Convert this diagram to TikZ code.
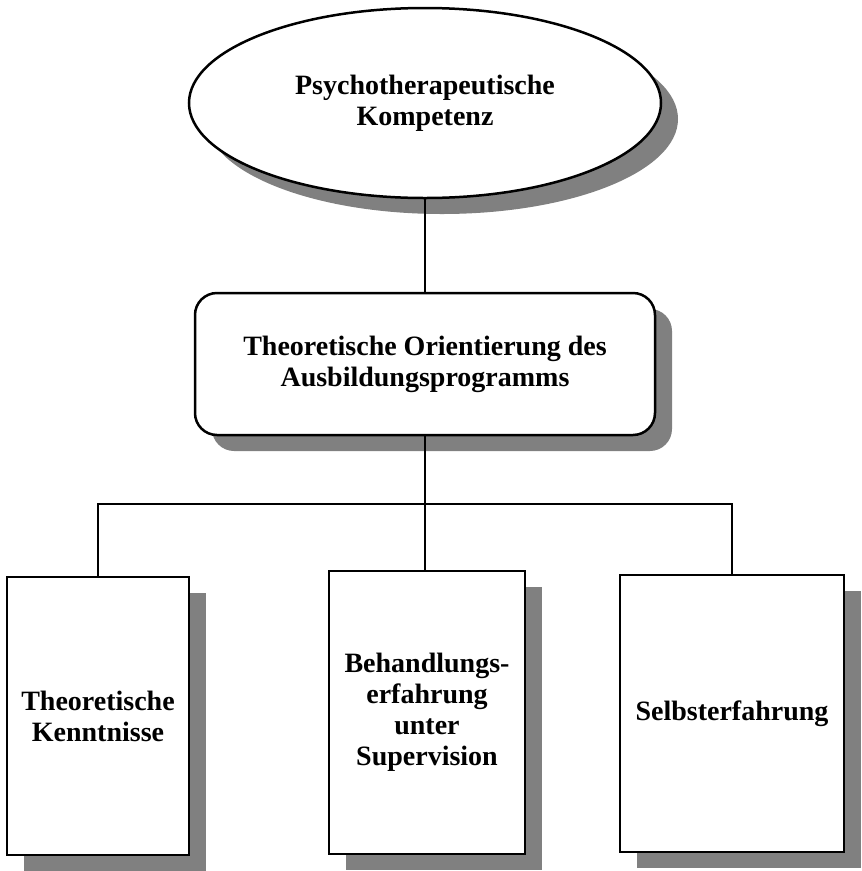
\documentclass[tikz,border=0pt]{standalone}
\usepackage{fontspec}
\setmainfont{Liberation Serif}
\usetikzlibrary{shapes.geometric,shadows}
\begin{document}
\begin{tikzpicture}[x=1pt,y=-1pt,
  lbl/.style={align=center,font=\fontsize{28}{31}\selectfont\bfseries,text=black},
  shad/.style={drop shadow={shadow xshift=17pt,shadow yshift=-16pt,fill=black!50,opacity=1}},
  ovalbox/.style={lbl,ellipse,draw=black,line width=2.5pt,fill=white,inner sep=0pt,shad},
  roundbox/.style={lbl,rectangle,rounded corners=22pt,draw=black,line width=2.5pt,fill=white,inner sep=0pt,shad},
  leafbox/.style={lbl,rectangle,draw=black,line width=2.5pt,fill=white,inner sep=0pt,shad},
  conn/.style={draw=black,line width=2.2pt}]
\useasboundingbox (0,0) rectangle (862,871);
\node[ovalbox,minimum width=472pt,minimum height=190pt] (top) at (425,103)
  {Psychotherapeutische\\Kompetenz};
\node[roundbox,minimum width=460pt,minimum height=142pt] (mid) at (425,364)
  {Theoretische Orientierung des\\Ausbildungsprogramms};
\node[leafbox,minimum width=182pt,minimum height=278pt] (l) at (98,716)
  {Theoretische\\Kenntnisse};
\node[leafbox,minimum width=196pt,minimum height=283pt] (m) at (427,712.5)
  {Behandlungs-\\erfahrung\\unter\\Supervision};
\node[leafbox,minimum width=224pt,minimum height=277pt] (r) at (732,713.5)
  {Selbsterfahrung};
\coordinate (hl) at (98,504);
\draw[conn] (top.south) -- (mid.north);
\draw[conn] (mid.south) -- (mid.south |- m.north);
\draw[conn] (l.north) -- (hl) -| (r.north);
\end{tikzpicture}
\end{document}
